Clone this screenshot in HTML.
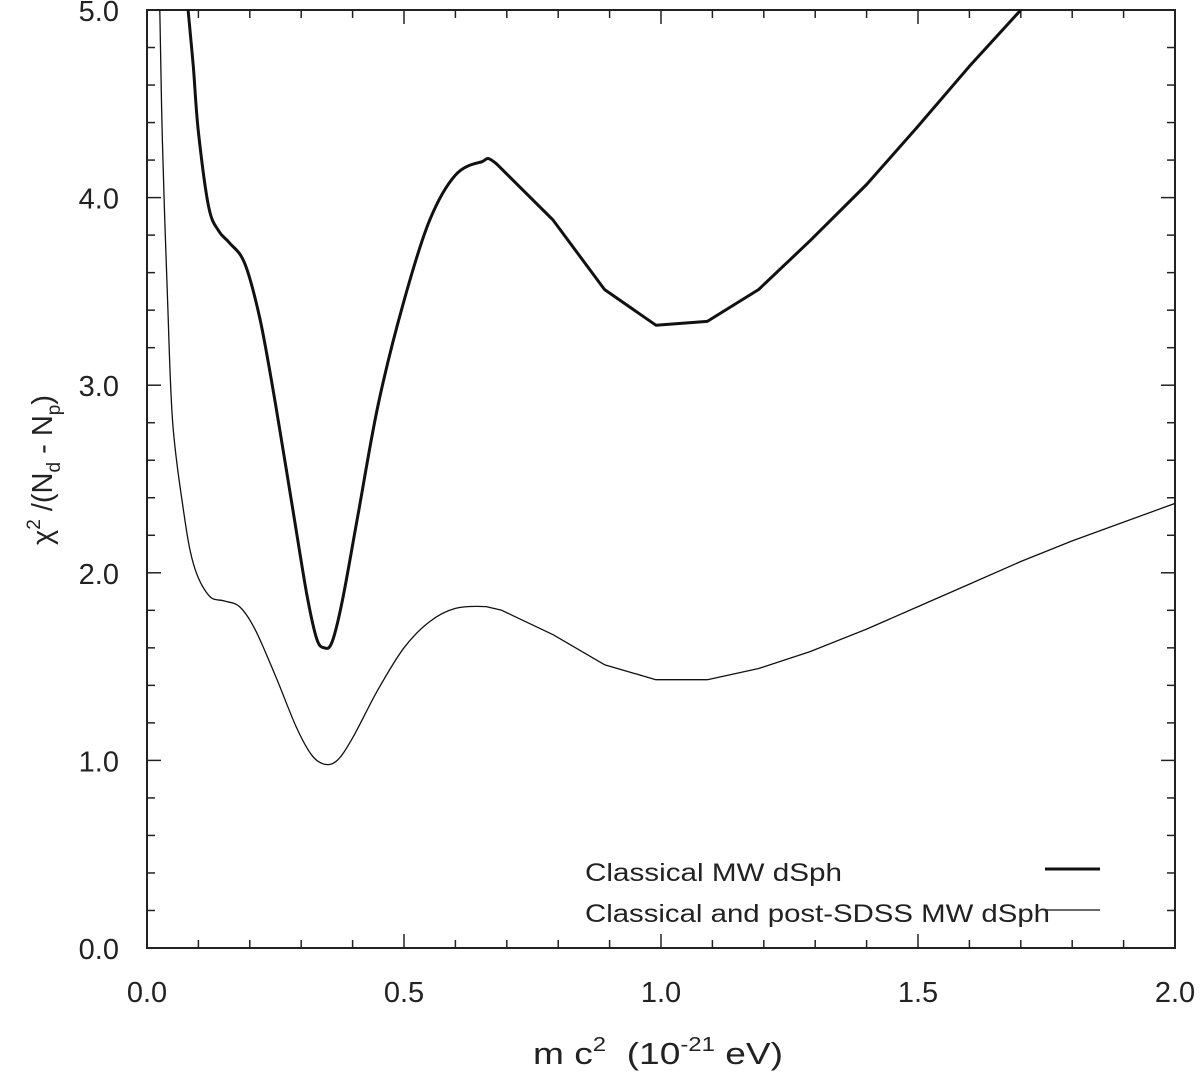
<!DOCTYPE html>
<html><head><meta charset="utf-8"><style>
body{margin:0;background:#fff}
svg{display:block;font-family:"Liberation Sans",Arial,sans-serif}
</style></head><body>
<svg id="chart" width="1200" height="1075" viewBox="0 0 1200 1075" style="position:absolute;left:0;top:0"></svg>
<script>
const xTicks=[0.0,0.5,1.0,1.5,2.0];
const yTicks=[0.0,1.0,2.0,3.0,4.0,5.0];
const thickX=[0.08,0.09,0.10,0.12,0.14,0.16,0.19,0.22,0.25,0.28,0.31,0.33,0.345,0.36,0.38,0.41,0.45,0.50,0.55,0.60,0.65,0.68,0.79,0.89,0.99,1.09,1.19,1.29,1.40,1.50,1.60,1.70];
const thickY=[5.0,4.7,4.35,3.95,3.82,3.76,3.65,3.35,2.9,2.4,1.9,1.65,1.6,1.63,1.85,2.3,2.9,3.45,3.88,4.12,4.19,4.18,3.88,3.51,3.32,3.34,3.51,3.77,4.07,4.38,4.7,5.0];
const thinX=[0.025,0.03,0.04,0.05,0.07,0.09,0.12,0.15,0.18,0.21,0.25,0.29,0.32,0.345,0.37,0.40,0.45,0.50,0.55,0.60,0.66,0.69,0.79,0.89,0.99,1.09,1.19,1.29,1.40,1.50,1.60,1.70,1.80,1.90,2.00];
const thinY=[5.0,4.3,3.45,2.8,2.35,2.05,1.88,1.85,1.82,1.7,1.45,1.18,1.03,0.98,1.0,1.12,1.38,1.6,1.74,1.81,1.82,1.8,1.67,1.51,1.43,1.43,1.49,1.58,1.7,1.82,1.94,2.06,2.17,2.27,2.37];
const L=147,R=1175,T=10,B=948;
const sx=v=>L+(v/2)*(R-L), sy=v=>B-(v/5)*(B-T);
const svg=document.getElementById('chart');
const NS='http://www.w3.org/2000/svg';
function mk(tag,attrs,parent){const e=document.createElementNS(NS,tag);for(const k in attrs)e.setAttribute(k,attrs[k]);(parent||svg).appendChild(e);return e;}
for(let i=0;i<=20;i++){const v=i*0.1,x=sx(v),len=(i%5===0)?14:8;
 const t=mk('line',{x1:x,y1:B,x2:x,y2:B-len,stroke:'#222','stroke-width':1.5});
 
 
 const t2=mk('line',{x1:x,y1:T,x2:x,y2:T+len,stroke:'#222','stroke-width':1.5});
 
 }
for(let i=0;i<=25;i++){const v=i*0.2,y=sy(v),len=(i%5===0)?14:8;
 const t=mk('line',{x1:L,y1:y,x2:L+len,y2:y,stroke:'#222','stroke-width':1.5});
 
 
 const t2=mk('line',{x1:R,y1:y,x2:R-len,y2:y,stroke:'#222','stroke-width':1.5});
 
 }
const frame=mk('rect',{x:L,y:T,width:R-L,height:B-T,fill:'none',stroke:'#222','stroke-width':2});


xTicks.forEach(v=>{const t=mk('text',{x:sx(v),y:1002,'text-anchor':'middle','font-size':29,fill:'#222'});t.textContent=v.toFixed(1);
 
 });
yTicks.forEach(v=>{const t=mk('text',{x:119,y:sy(v)+11,'text-anchor':'end','font-size':29,fill:'#222'});t.textContent=v.toFixed(1);
 
 });
function path(xs,ys,w,name){
 const P=xs.map((x,i)=>[sx(x),sy(ys[i])]);
 let d='M'+P[0][0].toFixed(1)+','+P[0][1].toFixed(1);
 for(let i=0;i<P.length-1;i++){
  const p1=P[i],p2=P[i+1];
  if(xs[i]>=0.66){d+='L'+p2[0].toFixed(1)+','+p2[1].toFixed(1);continue;}
  const p0=P[Math.max(0,i-1)],p3=P[Math.min(P.length-1,i+2)];
  const c1=[p1[0]+(p2[0]-p0[0])/6,p1[1]+(p2[1]-p0[1])/6];
  const c2=[p2[0]-(p3[0]-p1[0])/6,p2[1]-(p3[1]-p1[1])/6];
  d+='C'+c1.map(n=>n.toFixed(1)).join(',')+' '+c2.map(n=>n.toFixed(1)).join(',')+' '+p2.map(n=>n.toFixed(1)).join(',');
 }
 const p=mk('path',{d:d,fill:'none',stroke:'#111','stroke-width':w,'stroke-linejoin':'round','clip-path':'url(#clip)'});
 
 }
const defs=mk('defs',{});
const cp=mk('clipPath',{id:'clip'},defs);mk('rect',{x:L,y:T,width:R-L,height:B-T},cp);
path(thickX,thickY,3,'classical-curve');
path(thinX,thinY,1.3,'post-sdss-curve');
</script>
<svg width="1200" height="1075" style="position:absolute;left:0;top:0">
<g font-family="Liberation Sans, Arial, sans-serif" fill="#222">
<text x="585" y="881" font-size="25" textLength="257" lengthAdjust="spacingAndGlyphs">Classical MW dSph</text>
<line x1="1045" y1="869" x2="1100" y2="869" stroke="#111" stroke-width="3"/>
<text x="585" y="922" font-size="25" textLength="465" lengthAdjust="spacingAndGlyphs">Classical and post-SDSS MW dSph</text>
<line x1="1045" y1="910" x2="1100" y2="910" stroke="#111" stroke-width="1.3"/>
<text x="533" y="1064" font-size="31" textLength="250" lengthAdjust="spacingAndGlyphs" xml:space="preserve">m c<tspan dy="-13" font-size="20">2</tspan><tspan dy="13">  (10</tspan><tspan dy="-13" font-size="20">-21</tspan><tspan dy="13"> eV)</tspan></text>
<text transform="translate(52,470) rotate(-90)" text-anchor="middle" font-size="29">χ<tspan dy="-12" font-size="19">2</tspan><tspan dy="12"> /(N</tspan><tspan dy="8" font-size="19">d</tspan><tspan dy="-8"> - N</tspan><tspan dy="8" font-size="19">p</tspan><tspan dy="-8">)</tspan></text>
</g></svg>
</body></html>
